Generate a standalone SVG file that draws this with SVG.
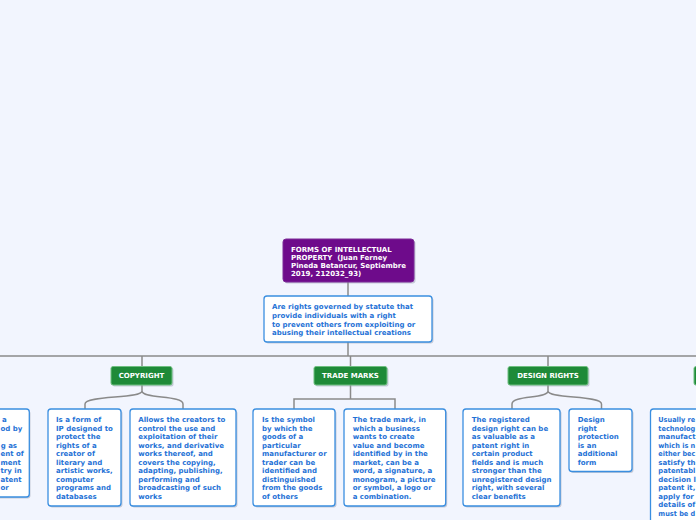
<svg xmlns="http://www.w3.org/2000/svg" width="696" height="520" viewBox="0 0 696 520">
<style>
.bg{fill:#F2F5FE}
.sh{fill:#8d97aa;opacity:.45}
.root{fill:#6E0B8B;stroke:#7d2a98;stroke-width:1}
.topic{fill:#1E8A38;stroke:#6fbf80;stroke-width:1}
.sub{fill:#fff;stroke:#3A8EE0;stroke-width:1.3}
.conn{fill:none;stroke:#8A8A8A;stroke-width:1.5}
text{font-family:"DejaVu Sans",Verdana,sans-serif;font-weight:bold;font-size:7px}
.tw{fill:#fff}
.tb{fill:#1F72D6}
.c{text-anchor:middle}
.e{text-anchor:end}
</style>
<rect class="bg" x="0" y="0" width="696" height="520"/>
<g id="connectors">
<path class="conn" d="M348 282V296"/>
<path class="conn" d="M348 342V356"/>
<path class="conn" d="M0 356H696"/>
<path class="conn" d="M142 356V366"/>
<path class="conn" d="M350.5 356V366"/>
<path class="conn" d="M548 356V366"/>
<path class="conn" d="M142 385V391C142 399 85 395 85 404V409M142 391C142 399 183 395 183 404V409"/>
<path class="conn" d="M350.5 385V399M294 409V399H395V409"/>
<path class="conn" d="M548 385V391C548 399 512 395 512 404V409M548 391C548 399 601.5 395 601.5 404V409"/>
</g>
<g id="root">
<rect class="sh" x="284.5" y="240.5" width="131" height="43" rx="3"/>
<rect class="root" x="283" y="239" width="131" height="43" rx="3"/>
<text class="tw" x="291" y="251.5">FORMS OF INTELLECTUAL</text>
<text class="tw" x="291" y="259.8" xml:space="preserve">PROPERTY  (Juan Ferney</text>
<text class="tw" x="291" y="268.1">Pineda Betancur, Septiembre</text>
<text class="tw" x="291" y="276.4">2019, 212032_93)</text>
</g>
<g id="definition">
<rect class="sh" x="265.5" y="297.5" width="168" height="46" rx="3"/>
<rect class="sub" x="264" y="296" width="168" height="46" rx="3"/>
<text class="tb" x="272" y="309.2">Are rights governed by statute that</text>
<text class="tb" x="272" y="317.8">provide individuals with a right</text>
<text class="tb" x="272" y="326.5">to prevent others from exploiting or</text>
<text class="tb" x="272" y="335.1">abusing their intellectual creations</text>
</g>
<g id="left-topic-child">
<rect class="sh" x="-60" y="410.5" width="90.5" height="88" rx="3"/>
<rect class="sub" x="-61" y="409" width="90.3" height="88" rx="3"/>
<text class="tb e" x="6.7" y="422">a</text>
<text class="tb" x="0.5" y="430.5">od by</text>
<text class="tb" x="0.7" y="447.5">g as</text>
<text class="tb" x="0.5" y="456">ent of</text>
<text class="tb" x="0.5" y="464.5">ment</text>
<text class="tb" x="0.5" y="473">try in</text>
<text class="tb" x="0.5" y="481.5">atent</text>
<text class="tb" x="0.5" y="490">or</text>
</g>
<g id="copyright">
<rect class="sh" x="112.5" y="368" width="61" height="18.5" rx="2"/>
<rect class="topic" x="111" y="366.5" width="61" height="18.5" rx="2"/>
<text class="tw c" x="141.5" y="378.2">COPYRIGHT</text>
</g>
<g id="copyright-1">
<rect class="sh" x="49.5" y="410.5" width="73" height="97" rx="3"/>
<rect class="sub" x="48" y="409" width="73" height="97" rx="3"/>
<text class="tb" x="56" y="422">Is a form of</text>
<text class="tb" x="56" y="430.5">IP designed to</text>
<text class="tb" x="56" y="439">protect the</text>
<text class="tb" x="56" y="447.5">rights of a</text>
<text class="tb" x="56" y="456">creator of</text>
<text class="tb" x="56" y="464.5">literary and</text>
<text class="tb" x="56" y="473">artistic works,</text>
<text class="tb" x="56" y="481.5">computer</text>
<text class="tb" x="56" y="490">programs and</text>
<text class="tb" x="56" y="498.5">databases</text>
</g>
<g id="copyright-2">
<rect class="sh" x="131.5" y="410.5" width="106" height="97" rx="3"/>
<rect class="sub" x="130" y="409" width="106" height="97" rx="3"/>
<text class="tb" x="138.3" y="422">Allows the creators to</text>
<text class="tb" x="138.3" y="430.5">control the use and</text>
<text class="tb" x="138.3" y="439">exploitation of their</text>
<text class="tb" x="138.3" y="447.5">works, and derivative</text>
<text class="tb" x="138.3" y="456">works thereof, and</text>
<text class="tb" x="138.3" y="464.5">covers the copying,</text>
<text class="tb" x="138.3" y="473">adapting, publishing,</text>
<text class="tb" x="138.3" y="481.5">performing and</text>
<text class="tb" x="138.3" y="490">broadcasting of such</text>
<text class="tb" x="138.3" y="498.5">works</text>
</g>
<g id="trade-marks">
<rect class="sh" x="315.5" y="368" width="73" height="18.5" rx="2"/>
<rect class="topic" x="314" y="366.5" width="73" height="18.5" rx="2"/>
<text class="tw c" x="350.5" y="378.2">TRADE MARKS</text>
</g>
<g id="trade-marks-1">
<rect class="sh" x="254.5" y="410.5" width="82" height="97" rx="3"/>
<rect class="sub" x="253" y="409" width="82" height="97" rx="3"/>
<text class="tb" x="262" y="422">Is the symbol</text>
<text class="tb" x="262" y="430.5">by which the</text>
<text class="tb" x="262" y="439">goods of a</text>
<text class="tb" x="262" y="447.5">particular</text>
<text class="tb" x="262" y="456">manufacturer or</text>
<text class="tb" x="262" y="464.5">trader can be</text>
<text class="tb" x="262" y="473">identified and</text>
<text class="tb" x="262" y="481.5">distinguished</text>
<text class="tb" x="262" y="490">from the goods</text>
<text class="tb" x="262" y="498.5">of others</text>
</g>
<g id="trade-marks-2">
<rect class="sh" x="345.5" y="410.5" width="101.7" height="97" rx="3"/>
<rect class="sub" x="344" y="409" width="101.7" height="97" rx="3"/>
<text class="tb" x="352.7" y="422">The trade mark, in</text>
<text class="tb" x="352.7" y="430.5">which a business</text>
<text class="tb" x="352.7" y="439">wants to create</text>
<text class="tb" x="352.7" y="447.5">value and become</text>
<text class="tb" x="352.7" y="456">identified by in the</text>
<text class="tb" x="352.7" y="464.5">market, can be a</text>
<text class="tb" x="352.7" y="473">word, a signature, a</text>
<text class="tb" x="352.7" y="481.5">monogram, a picture</text>
<text class="tb" x="352.7" y="490">or symbol, a logo or</text>
<text class="tb" x="352.7" y="498.5">a combination.</text>
</g>
<g id="design-rights">
<rect class="sh" x="509.5" y="368" width="80" height="18.5" rx="2"/>
<rect class="topic" x="508" y="366.5" width="80" height="18.5" rx="2"/>
<text class="tw c" x="548" y="378.2">DESIGN RIGHTS</text>
</g>
<g id="design-rights-1">
<rect class="sh" x="464.5" y="410.5" width="97" height="97" rx="3"/>
<rect class="sub" x="463" y="409" width="97" height="97" rx="3"/>
<text class="tb" x="471.7" y="422">The registered</text>
<text class="tb" x="471.7" y="430.5">design right can be</text>
<text class="tb" x="471.7" y="439">as valuable as a</text>
<text class="tb" x="471.7" y="447.5">patent right in</text>
<text class="tb" x="471.7" y="456">certain product</text>
<text class="tb" x="471.7" y="464.5">fields and is much</text>
<text class="tb" x="471.7" y="473">stronger than the</text>
<text class="tb" x="471.7" y="481.5">unregistered design</text>
<text class="tb" x="471.7" y="490">right, with several</text>
<text class="tb" x="471.7" y="498.5">clear benefits</text>
</g>
<g id="design-rights-2">
<rect class="sh" x="570.5" y="410.5" width="63" height="62.5" rx="3"/>
<rect class="sub" x="569" y="409" width="63" height="62.5" rx="3"/>
<text class="tb" x="577.7" y="422">Design</text>
<text class="tb" x="577.7" y="430.5">right</text>
<text class="tb" x="577.7" y="439">protection</text>
<text class="tb" x="577.7" y="447.5">is an</text>
<text class="tb" x="577.7" y="456">additional</text>
<text class="tb" x="577.7" y="464.5">form</text>
</g>
<g id="right-topic">
<rect class="sh" x="695.5" y="368" width="60" height="18.5" rx="2"/>
<rect class="topic" x="694" y="366.5" width="60" height="18.5" rx="2"/>
</g>
<g id="right-topic-child">
<rect class="sub" x="650.5" y="409" width="110" height="130" rx="3"/>
<text class="tb" x="658.3" y="422" textLength="37" lengthAdjust="spacingAndGlyphs">Usually re</text>
<text class="tb" x="658.3" y="430.5" textLength="37" lengthAdjust="spacingAndGlyphs">technolog</text>
<text class="tb" x="658.3" y="439">manufact</text>
<text class="tb" x="658.3" y="447.5" textLength="37" lengthAdjust="spacingAndGlyphs">which is n</text>
<text class="tb" x="658.3" y="456" textLength="37" lengthAdjust="spacingAndGlyphs">either bec</text>
<text class="tb" x="658.3" y="464.5">satisfy th</text>
<text class="tb" x="658.3" y="473" textLength="37" lengthAdjust="spacingAndGlyphs">patentabl</text>
<text class="tb" x="658.3" y="481.5">decision l</text>
<text class="tb" x="658.3" y="490">patent it,</text>
<text class="tb" x="658.3" y="498.5">apply for</text>
<text class="tb" x="658.3" y="507">details of</text>
<text class="tb" x="658.3" y="515.5" textLength="37" lengthAdjust="spacingAndGlyphs">must be d</text>
</g>
</svg>
